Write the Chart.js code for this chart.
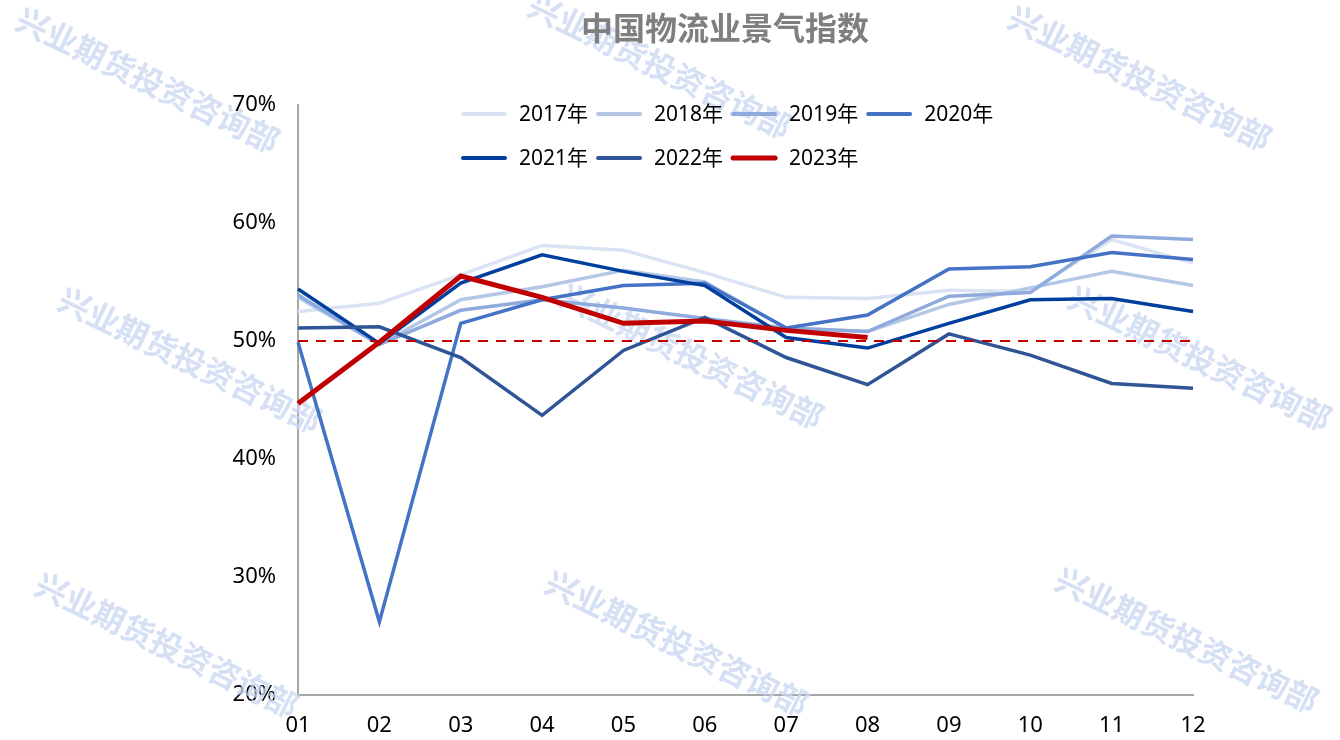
<!DOCTYPE html>
<html lang="zh">
<head>
<meta charset="utf-8">
<title>中国物流业景气指数</title>
<script src="https://cdn.jsdelivr.net/npm/chart.js@4.4.0/dist/chart.umd.min.js"></script>
<style>
  html, body { margin: 0; padding: 0; background: #fff; }
  #wrap { width: 1340px; height: 740px; position: relative; }
</style>
</head>
<body>
<div id="wrap"><canvas id="lpiChart"></canvas></div>
<script>
// months on the x axis
const months = ['01', '02', '03', '04', '05', '06', '07', '08', '09', '10', '11', '12'];

// index values (%) by year
const y2017 = [52.5, 53.2, 55.6, 58.1, 57.7, 55.8, 53.7, 53.6, 54.3, 54.2, 58.6, 56.6];
const y2018 = [53.7, 49.7, 53.5, 54.6, 56.0, 55.0, 51.1, 50.8, 53.1, 54.5, 55.9, 54.7];
const y2019 = [53.9, 49.7, 52.6, 53.5, 52.8, 51.9, 51.1, 50.8, 53.8, 54.1, 58.9, 58.6];
const y2020 = [49.9, 26.2, 51.5, 53.5, 54.7, 54.9, 51.1, 52.2, 56.1, 56.3, 57.5, 56.9];
const y2021 = [54.4, 49.8, 54.9, 57.3, 55.9, 54.7, 50.3, 49.4, 51.5, 53.5, 53.6, 52.5];
const y2022 = [51.1, 51.2, 48.6, 43.7, 49.2, 52.0, 48.6, 46.3, 50.6, 48.8, 46.4, 46.0];
const y2023 = [44.7, 49.9, 55.5, 53.7, 51.5, 51.7, 50.9, 50.3, null, null, null, null];

// 50% boom/bust line
const threshold = [50, 50, 50, 50, 50, 50, 50, 50, 50, 50, 50, 50];

const seriesNames = ['2017年', '2018年', '2019年', '2020年', '2021年', '2022年', '2023年'];
const yTicks = [20, 30, 40, 50, 60, 70];

const FONT = '"Noto Sans", "Noto Sans CJK SC", sans-serif';

function line(label, data, color, width, order) {
    return {
        label: label,
        data: data,
        borderColor: color,
        backgroundColor: color,
        borderWidth: width,
        pointRadius: 0,
        tension: 0,
        spanGaps: false,
        order: order
    };
}

const datasets = [
    line(seriesNames[0], y2017, '#dae3f3', 3.5, 8),
    line(seriesNames[1], y2018, '#b4c7e7', 3.5, 7),
    line(seriesNames[2], y2019, '#8faadc', 3.5, 6),
    line(seriesNames[3], y2020, '#4472c4', 3.5, 5),
    line(seriesNames[4], y2021, '#003f9e', 3.5, 4),
    line(seriesNames[5], y2022, '#2f5597', 3.5, 3),
    line(seriesNames[6], y2023, '#c00000', 5, 0),
    Object.assign(line('50%', threshold, '#c00000', 2, 1), { borderDash: [10, 8], hideInLegend: true })
];

// faint company watermark, tiled behind the lines
const watermark = {
    id: 'watermark',
    beforeDatasetsDraw(chart) {
        const ctx = chart.ctx;
        const spots = [
            [148, 80], [660, 66], [1140, 78],
            [190, 360], [692, 356], [1200, 358],
            [167, 645], [677, 643], [1187, 640]
        ];
        ctx.save();
        ctx.font = 'bold 32px "Noto Sans CJK SC", sans-serif';
        ctx.fillStyle = 'rgba(200, 214, 240, 0.75)';
        ctx.textAlign = 'center';
        ctx.textBaseline = 'middle';
        spots.forEach(([x, y]) => {
            ctx.save();
            ctx.translate(x, y);
            ctx.rotate(26 * Math.PI / 180);
            ctx.fillText('兴业期货投资咨询部', 0, 0);
            ctx.restore();
        });
        ctx.restore();
    }
};

// title + two-row legend, left aligned
const header = {
    id: 'header',
    afterDraw(chart) {
        const ctx = chart.ctx;
        ctx.save();
        ctx.font = 'bold 32px "Noto Sans CJK SC", sans-serif';
        ctx.fillStyle = '#7f7f7f';
        ctx.textAlign = 'center';
        ctx.textBaseline = 'middle';
        ctx.fillText('中国物流业景气指数', 725, 28);

        ctx.font = '21px ' + FONT;
        ctx.textAlign = 'left';
        let x = 461, y = 114;
        chart.data.datasets.filter(d => !d.hideInLegend).forEach((ds, i) => {
            if (i === 4) { x = 461; y = 158; }
            ctx.strokeStyle = ds.borderColor;
            ctx.lineWidth = ds.borderWidth > 4 ? 5 : 4;
            ctx.lineCap = 'round';
            ctx.beginPath();
            ctx.moveTo(x + 2, y);
            ctx.lineTo(x + 44, y);
            ctx.stroke();
            ctx.fillStyle = '#000';
            ctx.fillText(ds.label, x + 58, y + 1);
            x += 58 + ctx.measureText(ds.label).width + 8;
        });
        ctx.restore();
    }
};

new Chart(document.getElementById('lpiChart'), {
    type: 'line',
    data: { labels: months, datasets: datasets },
    plugins: [watermark, header],
    options: {
        responsive: true,
        maintainAspectRatio: false,
        animation: false,
        layout: { padding: { top: 105, right: 147, left: 0, bottom: 0 } },
        plugins: {
            legend: { display: false },
            title: { display: false },
            tooltip: { enabled: false }
        },
        scales: {
            x: {
                offset: false,
                grid: { display: false, drawTicks: false },
                border: { display: true, color: '#a6a6a6', width: 2 },
                ticks: { color: '#000', font: { family: FONT, size: 22 }, padding: 18, maxRotation: 0 },
                afterFit(scale) { scale.height = 45; }
            },
            y: {
                min: 20,
                max: 70,
                afterBuildTicks(scale) { scale.ticks = yTicks.map(v => ({ value: v })); },
                grid: { display: false, drawTicks: false },
                border: { display: true, color: '#a6a6a6', width: 2 },
                ticks: {
                    color: '#000',
                    font: { family: FONT, size: 22 },
                    padding: 22,
                    callback: v => v + '%'
                },
                afterFit(scale) { scale.width = 298; }
            }
        }
    }
});
</script>
</body>
</html>
